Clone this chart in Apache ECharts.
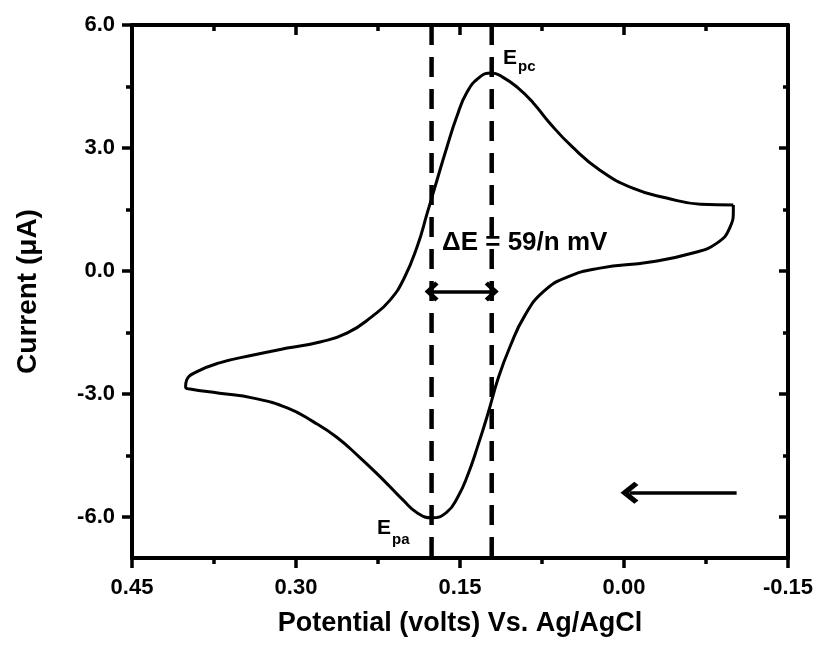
<!DOCTYPE html>
<html>
<head>
<meta charset="utf-8">
<title>Cyclic voltammogram</title>
<script src="https://cdn.jsdelivr.net/npm/echarts@6/dist/echarts.min.js"></script>
<style>
	html, body { margin: 0; padding: 0; background: #ffffff; }
	#chart { width: 819px; height: 647px; }
</style>
</head>
<body>
<div id="chart"></div>
<script>
// one closed scan: potential (V vs Ag/AgCl), current (uA)
var potential = [-0.100, -0.070, -0.039, -0.008, 0.022, 0.047, 0.068, 0.083, 0.098, 0.111,
	0.121, 0.132, 0.144, 0.153, 0.162, 0.171, 0.180, 0.189, 0.201, 0.214,
	0.230, 0.253, 0.278, 0.308, 0.339, 0.370, 0.391, 0.400, 0.401, 0.397,
	0.370, 0.339, 0.308, 0.284, 0.263, 0.242, 0.220, 0.202, 0.189, 0.176,
	0.162, 0.152, 0.143, 0.134, 0.124, 0.115, 0.104, 0.091, 0.074, 0.052,
	0.022, -0.024, -0.063, -0.085, -0.097, -0.100, -0.100];
var current = [1.61, 1.63, 1.78, 2.02, 2.46, 3.02, 3.61, 4.10, 4.49, 4.73,
	4.83, 4.73, 4.34, 3.76, 3.02, 2.22, 1.41, 0.61, -0.17, -0.71,
	-1.10, -1.51, -1.73, -1.88, -2.05, -2.24, -2.46, -2.66, -2.83, -2.88,
	-2.98, -3.10, -3.34, -3.68, -4.05, -4.54, -5.10, -5.59, -5.90, -6.02,
	-5.88, -5.51, -4.98, -4.29, -3.44, -2.61, -1.83, -1.10, -0.51, -0.15,
	0.07, 0.22, 0.44, 0.68, 1.07, 1.49, 1.61];

// peak potentials (Epa, Epc) for the dashed guide lines
var peakPotentials = [0.176, 0.121];
// double arrow between the peaks
var separationArrow = { from: 0.176, to: 0.121, current: -0.5 };
// scan direction arrow
var scanArrow = { from: -0.103, to: -0.005, current: -5.41 };

var xTicks = [0.45, 0.30, 0.15, 0.00, -0.15];
var yMajorTicks = [-6, -3, 0, 3, 6];
var yMinorTicks = [-4.5, -1.5, 1.5, 4.5];

var xMin = -0.15, xMax = 0.45, xStep = 0.15;
var yMin = -7, yMax = 6;

(function () {
	var fontFamily = "'Liberation Sans', Arial, sans-serif";
	var black = '#000000';
	var axisWidth = 4;
	var chevron = 'path://M0,10 L10,0 L20,10 L17,13 L10,6 L3,13 Z';

	var echart = echarts.init(document.getElementById('chart'), null, { renderer: 'canvas' });

	var loop = [];
	for (var i = 0; i < potential.length; i++) {
		loop.push([potential[i], current[i]]);
	}

	var series = [
		{
			type: 'line',
			data: loop,
			smooth: 0.5,
			showSymbol: false,
			silent: true,
			lineStyle: { color: black, width: 3 },
			z: 5
		}
	];

	peakPotentials.forEach(function (p) {
		series.push({
			type: 'line',
			data: [[p, yMax], [p, yMin]],
			showSymbol: false,
			silent: true,
			lineStyle: { color: black, width: 4.5, type: [20, 12] },
			z: 4
		});
	});

	series.push({
		type: 'line',
		data: [],
		silent: true,
		markLine: {
			silent: true,
			animation: false,
			label: { show: false },
			emphasis: { disabled: true },
			data: [
				[
					{ coord: [separationArrow.from, separationArrow.current], symbol: chevron, symbolSize: [20, 14] },
					{ coord: [separationArrow.to, separationArrow.current], symbol: chevron, symbolSize: [20, 14] }
				],
				[
					{ coord: [scanArrow.from, scanArrow.current], symbol: 'none' },
					{ coord: [scanArrow.to, scanArrow.current], symbol: chevron, symbolSize: [22, 18] }
				]
			],
			lineStyle: { color: black, width: 3.5, type: 'solid' }
		}
	});

	var tickLabelStyle = {
		color: black,
		fontFamily: fontFamily,
		fontWeight: 'bold',
		fontSize: 22
	};

	function xAxisDef(position, withLabels) {
		var axis = {
			type: 'value',
			position: position,
			inverse: true,
			min: xMin,
			max: xMax,
			interval: xStep,
			name: withLabels ? 'Potential (volts) Vs. Ag/AgCl' : '',
			nameLocation: 'middle',
			nameGap: 52,
			nameTextStyle: { color: black, fontFamily: fontFamily, fontWeight: 'bold', fontSize: 27 },
			axisLine: { show: true, onZero: false, lineStyle: { color: black, width: axisWidth } },
			axisTick: { show: true, inside: !withLabels, length: 10, lineStyle: { color: black, width: 3.5 } },
			minorTick: { show: true, splitNumber: 2, length: 6, lineStyle: { color: black, width: 3.5 } },
			splitLine: { show: false },
			axisLabel: {
				show: withLabels,
				margin: 19,
				showMinLabel: true,
				showMaxLabel: true,
				formatter: function (v) { return v.toFixed(2); },
				customValues: xTicks
			}
		};
		for (var k in tickLabelStyle) axis.axisLabel[k] = tickLabelStyle[k];
		return axis;
	}

	function yAxisDef(position, ticks, tickLength, withLine, withLabels) {
		var axis = {
			type: 'value',
			position: position,
			min: yMin,
			max: yMax,
			name: withLabels ? 'Current (\u03BCA)' : '',
			nameLocation: 'middle',
			nameGap: 90,
			nameRotate: 90,
			nameTextStyle: { color: black, fontFamily: fontFamily, fontWeight: 'bold', fontSize: 28 },
			axisLine: { show: withLine, onZero: false, lineStyle: { color: black, width: axisWidth } },
			axisTick: {
				show: true,
				inside: position === 'right',
				length: tickLength,
				customValues: ticks,
				lineStyle: { color: black, width: 3.5 }
			},
			splitLine: { show: false },
			axisLabel: { show: false }
		};
		if (withLabels) {
			axis.axisLabel = {
				show: true,
				margin: 17,
				customValues: ticks,
				formatter: function (v) { return v.toFixed(1); }
			};
			for (var k in tickLabelStyle) axis.axisLabel[k] = tickLabelStyle[k];
		}
		return axis;
	}

	function label(text, x, y, size) {
		return {
			type: 'text',
			silent: true,
			z: 10,
			style: {
				text: text,
				x: x,
				y: y,
				align: 'left',
				verticalAlign: 'middle',
				fill: black,
				fontFamily: fontFamily,
				fontWeight: 'bold',
				fontSize: size
			}
		};
	}

	var eChartOptions = {
		backgroundColor: '#ffffff',
		animation: false,
		grid: { left: 132, right: 31, top: 25, bottom: 89, containLabel: false },
		xAxis: [xAxisDef('bottom', true), xAxisDef('top', false)],
		yAxis: [
			yAxisDef('left', yMajorTicks, 10, true, true),
			yAxisDef('right', yMajorTicks, 9, true, false),
			yAxisDef('left', yMinorTicks, 6, false, false),
			yAxisDef('right', yMinorTicks, 5, false, false)
		],
		series: series,
		graphic: [
			label('E', 503, 58, 21),
			label('pc', 518, 67, 15),
			label('E', 377, 528, 21),
			label('pa', 392, 540, 15),
			label('\u0394E = 59/n mV', 442, 243, 26)
		]
	};

	echart.setOption(eChartOptions);
})();
</script>
</body>
</html>
